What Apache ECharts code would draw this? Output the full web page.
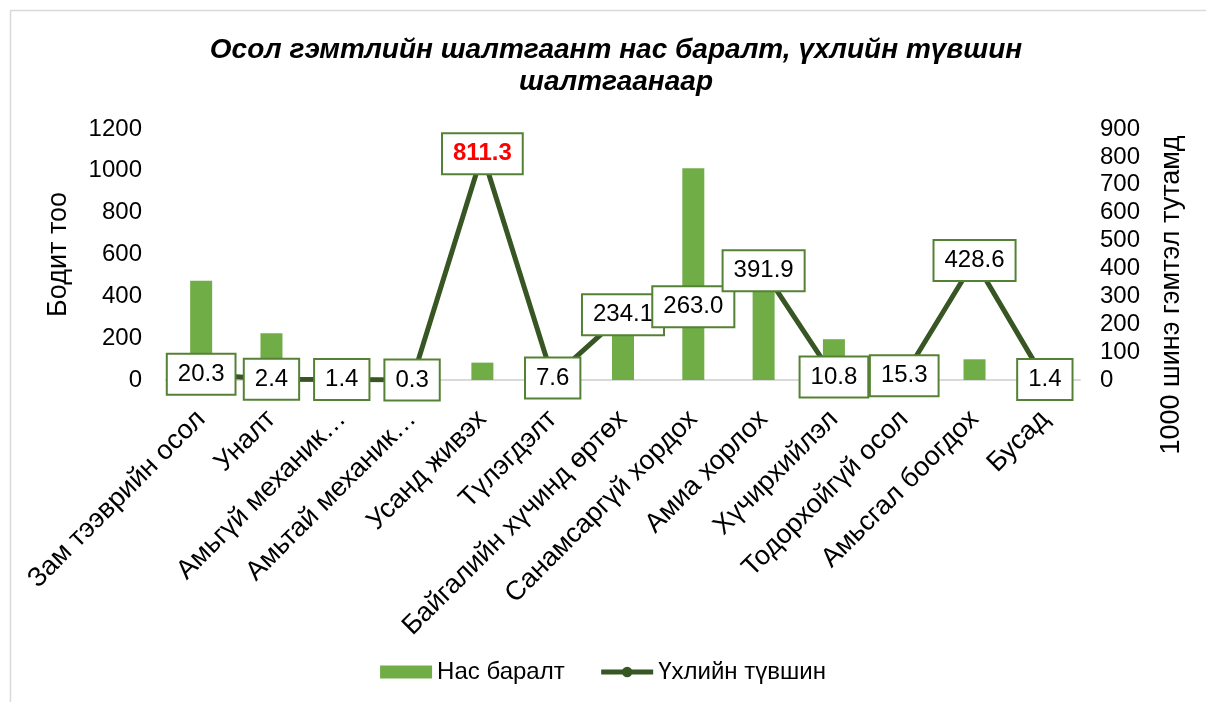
<!DOCTYPE html>
<html>
<head>
<meta charset="utf-8">
<script src="https://cdn.jsdelivr.net/npm/echarts@6/dist/echarts.min.js"></script>
<style>
  html, body { margin: 0; padding: 0; background: #fff; }
  #chart { width: 1206px; height: 702px; }
</style>
</head>
<body>
<div id="chart"></div>
<script>
// Causes of injury deaths: count of deaths (bars) and rate per 1000 new injuries (line)
const categories = [
  'Зам тээврийн осол', 'Уналт', 'Амьгүй механик…', 'Амьтай механик…', 'Усанд живэх',
  'Түлэгдэлт', 'Байгалийн хүчинд өртөх', 'Санамсаргүй хордох', 'Амиа хорлох',
  'Хүчирхийлэл', 'Тодорхойгүй осол', 'Амьсгал боогдох', 'Бусад'
];
const deaths = [475, 223, 8, 3, 83, 25, 215, 1012, 440, 195, 20, 99, 5];
const deathRate = [20.3, 2.4, 1.4, 0.3, 811.3, 7.6, 234.1, 263.0, 391.9, 10.8, 15.3, 428.6, 1.4];
const leftTicks = { min: 0, max: 1200, interval: 200 };
const rightTicks = { min: 0, max: 900, interval: 100 };
const highlightIndex = 4; // the peak rate is shown in red

const FONT = "'Liberation Sans', Arial, sans-serif";
const BAR_GREEN = '#70AD47';
const LINE_GREEN = '#375623';
const BOX_GREEN = '#548235';

const chart = echarts.init(document.getElementById('chart'), null, { renderer: 'canvas' });

const rateData = deathRate.map((v, i) => {
  if (i !== highlightIndex) return v;
  return { value: v, label: { color: '#FF0000', fontWeight: 'bold' } };
});

chart.setOption({
  animation: false,
  textStyle: { fontFamily: FONT },
  graphic: [
    {
      type: 'rect', silent: true, z: -10,
      shape: { x: 10.5, y: 10.5, width: 1220, height: 720 },
      style: { fill: 'none', stroke: '#d9d9d9', lineWidth: 1.5 }
    },
    {
      // chart title, centred on the framed chart area
      type: 'text', silent: true,
      x: 616, y: 66,
      style: {
        text: 'Осол гэмтлийн шалтгаант нас баралт, үхлийн түвшин\nшалтгаанаар',
        font: 'italic bold 28px ' + FONT, fill: '#000',
        lineHeight: 32, align: 'center', verticalAlign: 'middle'
      }
    },
    {
      type: 'text', silent: true,
      x: 1172, y: 295, rotation: Math.PI / 2,
      style: {
        text: '1000 шинэ гэмтэл тутамд', font: '27px ' + FONT, fill: '#000',
        align: 'center', verticalAlign: 'middle'
      }
    }
  ],
  legend: {
    bottom: 13,
    left: 'center',
    itemWidth: 52,
    itemHeight: 13,
    itemGap: 34,
    textStyle: { fontFamily: FONT, fontSize: 24, color: '#000' },
    data: [
      { name: 'Нас баралт', icon: 'rect' },
      {
        name: 'Үхлийн түвшин',
        lineStyle: { width: 5, color: LINE_GREEN },
        itemStyle: { color: LINE_GREEN }
      }
    ]
  },
  grid: { left: 166, right: 126, top: 129, bottom: 322, containLabel: false },
  xAxis: {
    type: 'category',
    data: categories,
    axisLine: { show: true, lineStyle: { color: '#d9d9d9', width: 2 } },
    axisTick: { show: false },
    axisLabel: {
      rotate: 45, interval: 0, margin: 35,
      fontFamily: FONT, fontSize: 27, color: '#000'
    }
  },
  yAxis: [
    {
      type: 'value',
      min: leftTicks.min, max: leftTicks.max, interval: leftTicks.interval,
      name: 'Бодит тоо',
      nameLocation: 'middle',
      nameGap: 94,
      nameTextStyle: { fontFamily: FONT, fontSize: 27, color: '#000' },
      splitLine: { show: false },
      axisLine: { show: false },
      axisTick: { show: false },
      axisLabel: {
        margin: 24, fontFamily: FONT, fontSize: 24, color: '#000',
        formatter: v => String(v)
      }
    },
    {
      type: 'value',
      min: rightTicks.min, max: rightTicks.max, interval: rightTicks.interval,
      position: 'right',
      splitLine: { show: false },
      axisLine: { show: false },
      axisTick: { show: false },
      axisLabel: {
        margin: 20, fontFamily: FONT, fontSize: 24, color: '#000',
        formatter: v => String(v)
      }
    }
  ],
  series: [
    {
      name: 'Нас баралт',
      type: 'bar',
      yAxisIndex: 0,
      barWidth: 22,
      itemStyle: { color: BAR_GREEN },
      data: deaths,
      z: 2
    },
    {
      name: 'Үхлийн түвшин',
      type: 'line',
      yAxisIndex: 1,
      data: rateData,
      symbol: 'circle',
      symbolSize: 9,
      lineStyle: { color: LINE_GREEN, width: 5 },
      itemStyle: { color: LINE_GREEN },
      z: 3,
      label: {
        show: true,
        position: 'inside',
        formatter: p => Number(p.value).toFixed(1),
        fontFamily: FONT, fontSize: 24, color: '#000',
        backgroundColor: '#fff',
        borderColor: BOX_GREEN, borderWidth: 2,
        padding: [6, 10], lineHeight: 27
      }
    }
  ]
});
</script>
</body>
</html>
